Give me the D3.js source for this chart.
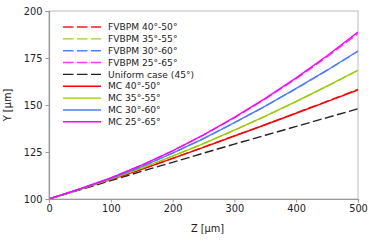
<!DOCTYPE html>
<html>
<head>
<meta charset="utf-8">
<script src="https://cdn.jsdelivr.net/npm/d3@7"></script>
<style>
  body { margin: 0; background: #fff; }
  text { font-family: "DejaVu Sans", sans-serif; fill: #222; }
</style>
</head>
<body>
<div id="chart"></div>
<script>
// Z positions [µm]
const zValues = [0, 50, 100, 150, 200, 250, 300, 350, 400, 450, 500];

// Y [µm]
const uniform45 = [100, 104.9, 109.8, 114.7, 119.5, 124.4, 129.2, 133.9, 138.6, 143.3, 148.0];
const mc4050 = [100, 105.1, 110.3, 115.8, 121.6, 127.5, 133.5, 139.5, 145.6, 151.8, 158.0];
const mc3555 = [100, 105.2, 110.6, 116.4, 122.8, 129.5, 136.6, 144.1, 151.9, 160.1, 168.6];
const mc3060 = [100, 105.3, 110.9, 117.2, 124.4, 132.1, 140.6, 149.4, 158.8, 168.5, 178.7];
const mc2565 = [100, 105.4, 111.2, 118.0, 125.6, 134.1, 143.4, 153.5, 164.4, 176.2, 188.8];
const fv4050 = [100, 105.1, 110.3, 115.8, 121.6, 127.6, 133.6, 139.6, 145.8, 152.0, 158.3];
const fv3555 = [100, 105.2, 110.6, 116.4, 122.8, 129.5, 136.6, 144.0, 151.8, 160.0, 168.4];
const fv3060 = [100, 105.3, 110.9, 117.2, 124.4, 132.1, 140.6, 149.4, 158.7, 168.4, 178.6];
const fv2565 = [100, 105.4, 111.2, 118.0, 125.6, 134.0, 143.2, 153.2, 164.0, 175.6, 187.9];

const series = [
  { label: "FVBPM 40°-50°", values: fv4050, color: "#ff1a1a", dashed: true },
  { label: "FVBPM 35°-55°", values: fv3555, color: "#9acd32", dashed: true },
  { label: "FVBPM 30°-60°", values: fv3060, color: "#4f82ff", dashed: true },
  { label: "FVBPM 25°-65°", values: fv2565, color: "#ff33ff", dashed: true },
  { label: "Uniform case (45°)", values: uniform45, color: "#222222", dashed: true },
  { label: "MC 40°-50°", values: mc4050, color: "#ff0000", dashed: false },
  { label: "MC 35°-55°", values: mc3555, color: "#99cc00", dashed: false },
  { label: "MC 30°-60°", values: mc3060, color: "#4a7dff", dashed: false },
  { label: "MC 25°-65°", values: mc2565, color: "#ff00ff", dashed: false }
];

const xTicks = [0, 100, 200, 300, 400, 500];
const yTicks = [100, 125, 150, 175, 200];

const W = 374, H = 241;
const margin = { top: 11, right: 16, bottom: 42, left: 49 };
const width = W - margin.left - margin.right;
const height = H - margin.top - margin.bottom;

const svg = d3.select("#chart").append("svg")
    .attr("width", W).attr("height", H)
  .append("g")
    .attr("transform", `translate(${margin.left},${margin.top})`);

const x = d3.scaleLinear().domain([0, 500]).range([0, width]);
const y = d3.scaleLinear().domain([100, 200]).range([height, 0]);

// frame
svg.append("rect").attr("width", width).attr("height", height)
    .attr("fill", "none").attr("stroke", "#bbb").attr("stroke-width", 1);

const line = d3.line().x((d, i) => x(zValues[i])).y(d => y(d));

svg.append("defs").append("clipPath").attr("id", "clip")
  .append("rect").attr("width", width).attr("height", height);

const lines = svg.append("g").attr("clip-path", "url(#clip)");
series.forEach(s => {
  lines.append("path")
      .datum(s.values)
      .attr("fill", "none")
      .attr("stroke", s.color)
      .attr("stroke-width", 1.4)
      .attr("stroke-dasharray", s.dashed ? "9,3.5" : null)
      .attr("d", line);
});

// axes
const xAxis = svg.append("g").attr("transform", `translate(0,${height})`)
    .call(d3.axisBottom(x).tickValues(xTicks).tickSize(3.5).tickPadding(3));
const yAxis = svg.append("g")
    .call(d3.axisLeft(y).tickValues(yTicks).tickSize(3.5).tickPadding(3));
[xAxis, yAxis].forEach(a => {
  a.select(".domain").attr("stroke", "#999").attr("stroke-width", 1.2);
  a.selectAll(".tick line").attr("stroke", "#999");
  a.selectAll(".tick text").style("font-size", "9.8px").style("font-family", "DejaVu Sans").attr("fill", "#222");
});

svg.append("text").attr("x", width / 2 + 4).attr("y", height + 33)
    .attr("text-anchor", "middle").style("font-size", "9.8px").text("Z [μm]");
svg.append("text").attr("transform", "rotate(-90)")
    .attr("x", -height / 2).attr("y", -38)
    .attr("text-anchor", "middle").style("font-size", "9.8px").text("Y [μm]");

// legend
const legend = svg.append("g").attr("transform", "translate(14,16)");
series.forEach((s, i) => {
  const g = legend.append("g").attr("transform", `translate(0,${i * 11.85})`);
  g.append("line").attr("x1", 0).attr("x2", 38).attr("y1", 0).attr("y2", 0)
      .attr("stroke", s.color).attr("stroke-width", 1.4)
      .attr("stroke-dasharray", s.dashed ? "10.5,3.5" : null);
  g.append("text").attr("x", 45).attr("y", 0).attr("dy", "0.35em")
      .style("font-size", "9.1px").text(s.label);
});
</script>
</body>
</html>
